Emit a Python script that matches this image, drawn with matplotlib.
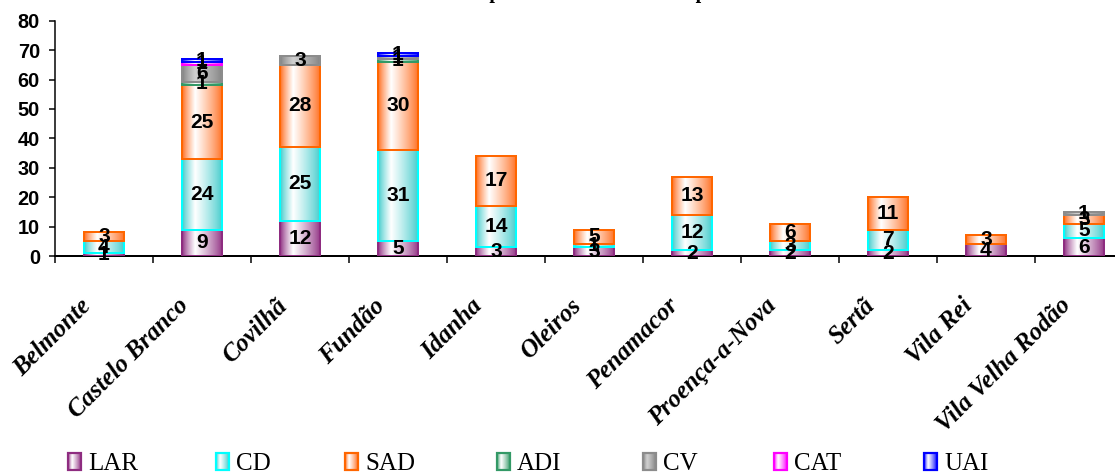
import numpy as np
import matplotlib
matplotlib.use("Agg")
import matplotlib.pyplot as plt
from matplotlib.colors import to_rgb
from matplotlib.patches import Rectangle
from matplotlib.transforms import ScaledTranslation

# ---------------- data ----------------
categories = ['Belmonte', 'Castelo Branco', 'Covilhã', 'Fundão', 'Idanha', 'Oleiros',
              'Penamacor', 'Proença-a-Nova', 'Sertã', 'Vila Rei', 'Vila Velha Rodão']
series_names = ['LAR', 'CD', 'SAD', 'ADI', 'CV', 'CAT', 'UAI']
LAR = [1, 9, 12, 5, 3, 3, 2, 2, 2, 4, 6]
CD = [4, 24, 25, 31, 14, 1, 12, 3, 7, 0, 5]
SAD = [3, 25, 28, 30, 17, 5, 13, 6, 11, 3, 3]
ADI = [0, 1, 0, 1, 0, 0, 0, 0, 0, 0, 0]
CV = [0, 6, 3, 1, 0, 0, 0, 0, 0, 0, 1]
CAT = [0, 1, 0, 0, 0, 0, 0, 0, 0, 0, 0]
UAI = [0, 1, 0, 1, 0, 0, 0, 0, 0, 0, 0]
yticks = list(range(0, 81, 10))
title = 'Número de respostas sociais existentes por concelho'

# ---------------- style ----------------
series_values = [LAR, CD, SAD, ADI, CV, CAT, UAI]
edge_colors = ['#8E2C80', '#00FFFF', '#FF6600', '#339966', '#8C8C8C', '#FF00FF', '#0000FF']
fill_colors = ['#8E2C80', '#3CCACA', '#FF6A1A', '#339966', '#808080', '#FF00FF', '#0000FF']
mid_colors = ['white', 'white', 'white', 'white', '#D0D0D0', 'white', 'white']

DPI = 72
W, H = 1115, 472
fig = plt.figure(figsize=(W / DPI, H / DPI), dpi=DPI)
fig.patch.set_facecolor('white')

ax_left, ax_right, ax_bottom, ax_top = 55, 55 + 11 * 98, 256, 20.7
ax = fig.add_axes([ax_left / W, (H - ax_bottom) / H,
                   (ax_right - ax_left) / W, (ax_bottom - ax_top) / H])


def gradient(color, mid, n=64):
    c = np.array(to_rgb(color))
    m = np.array(to_rgb(mid))
    t = np.linspace(0, 1, n)
    w = np.where(t < 0.32, t / 0.32, 1 - (t - 0.32) / 0.68)
    w = np.clip(w, 0, 1) ** 0.8
    img = c[None, :] * (1 - w[:, None]) + m[None, :] * w[:, None]
    return img[None, :, :]


bar_w = 0.41
x = np.arange(len(categories)) + 0.5
bottoms = np.zeros(len(categories))
for vals, ec, fc, mc in zip(series_values, edge_colors, fill_colors, mid_colors):
    img = gradient(fc, mc)
    for i, v in enumerate(vals):
        if v <= 0:
            continue
        b = bottoms[i]
        x0 = x[i] - bar_w / 2
        ax.imshow(img, extent=[x0, x0 + bar_w, b, b + v], aspect='auto',
                  interpolation='bilinear', zorder=2)
        ax.add_patch(Rectangle((x0, b), bar_w, v, fill=False, edgecolor=ec,
                               lw=2.0, zorder=3))
        ax.text(x[i], b + v / 2, str(v), ha='center', va='center',
                fontsize=21, fontweight='bold', family='Liberation Sans',
                color='black', zorder=5)
    bottoms += np.array(vals, dtype=float)

ax.set_xlim(0, len(categories))
ax.set_ylim(0, 80)
ax.set_yticks(yticks)
ax.set_yticklabels([str(t) for t in yticks], fontsize=20, fontweight='bold',
                   family='Liberation Sans')
ax.tick_params(axis='y', direction='out', length=6, width=1.5, pad=9)

ax.set_xticks(np.arange(len(categories) + 1))
ax.set_xticklabels([])
ax.tick_params(axis='x', which='major', direction='out', length=7, width=1.5)
ax.set_xticks(x, minor=True)
ax.set_xticklabels(categories, minor=True, rotation=45, ha='right',
                   rotation_mode='anchor', fontsize=25, fontweight='bold',
                   fontstyle='italic', family='Liberation Serif')
ax.tick_params(axis='x', which='minor', length=0, pad=38)
shift = ScaledTranslation(-25 / DPI, 0, fig.dpi_scale_trans)
for lab in ax.get_xticklabels(minor=True):
    lab.set_transform(lab.get_transform() + shift)

for s in ['top', 'right']:
    ax.spines[s].set_visible(False)
ax.spines['left'].set_linewidth(1.5)
ax.spines['bottom'].set_linewidth(2)
ax.set_facecolor('none')

# ---------------- overlay: title + legend in pixel coordinates ----------------
ov = fig.add_axes([0, 0, 1, 1], zorder=10)
ov.set_xlim(0, W)
ov.set_ylim(H, 0)
ov.axis('off')
ov.patch.set_alpha(0)

ov.text(585, -2, title, ha='center', va='baseline', fontsize=20,
        fontweight='bold', family='Liberation Serif', clip_on=False)

leg_x = [68, 216, 345, 497, 643, 774, 924]
for lx, name, ec, fc, mc in zip(leg_x, series_names, edge_colors, fill_colors, mid_colors):
    mw, mh, my = 13, 17, 453
    ov.imshow(gradient(fc, mc), extent=[lx, lx + mw, my + mh, my], aspect='auto',
              interpolation='bilinear', zorder=2)
    ov.add_patch(Rectangle((lx, my), mw, mh, fill=False, edgecolor=ec, lw=2.2, zorder=3))
    ov.text(lx + 20, 470, name, ha='left', va='baseline', fontsize=25,
            family='Liberation Serif', color='black')
ov.set_xlim(0, W)
ov.set_ylim(H, 0)

fig.savefig('out.png', dpi=DPI, facecolor='white')
